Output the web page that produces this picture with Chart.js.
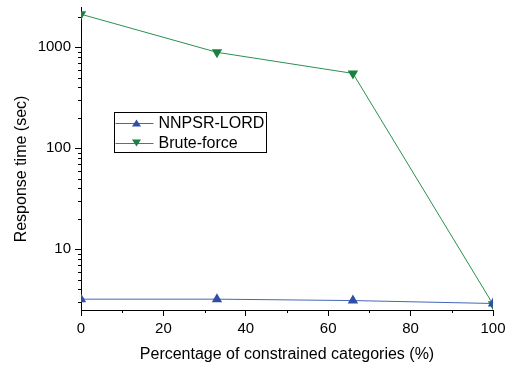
<!DOCTYPE html>
<html>
<head>
<meta charset="utf-8">
<script src="https://cdn.jsdelivr.net/npm/chart.js@4/dist/chart.umd.min.js"></script>
<style>
html,body{margin:0;padding:0;background:#fff;}
#wrap{width:515px;height:371px;}
</style>
</head>
<body>
<div id="wrap"><canvas id="c" width="515" height="371"></canvas></div>
<script>
const categories = [0, 33, 66, 100];
const nnpsrValues = [3.2, 3.2, 3.1, 2.9];
const bruteValues = [2120, 890, 550, 2.85];
const xTicks = [0, 20, 40, 60, 80, 100];
const yMajorTicks = [10, 100, 1000];
const seriesNames = ['NNPSR-LORD', 'Brute-force'];
const xTitle = 'Percentage of constrained categories (%)';
const yTitle = 'Response time (sec)';

const FONT = 'Liberation Sans, Arial, sans-serif';

const minorTicks = {
  id: 'minorTicks',
  afterDraw(chart) {
    const ctx = chart.ctx;
    const y = chart.scales.y, x = chart.scales.x;
    ctx.save();
    ctx.strokeStyle = '#000';
    ctx.lineWidth = 1;
    ctx.beginPath();
    for (let d = 1; d <= 1000; d *= 10) {
      for (let k = 2; k <= 9; k++) {
        const v = d * k;
        if (v < y.min || v > y.max) continue;
        const py = Math.round(y.getPixelForValue(v)) + 0.5;
        ctx.moveTo(x.left - 3, py);
        ctx.lineTo(x.left, py);
      }
    }
    for (let v = 10; v < 100; v += 20) {
      const px = Math.round(x.getPixelForValue(v)) + 0.5;
      ctx.moveTo(px, y.bottom);
      ctx.lineTo(px, y.bottom + 3);
    }
    ctx.stroke();
    ctx.restore();
  }
};

const axisTitles = {
  id: 'axisTitles',
  afterDraw(chart) {
    const ctx = chart.ctx;
    const x = chart.scales.x;
    ctx.save();
    ctx.fillStyle = '#000';
    ctx.font = '16px ' + FONT;
    ctx.textAlign = 'center';
    ctx.textBaseline = 'middle';
    ctx.fillText(xTitle, (x.left + x.right) / 2, 355);
    ctx.translate(22, 169);
    ctx.rotate(-Math.PI / 2);
    ctx.fillText(yTitle, 0, 0);
    ctx.restore();
  }
};

const boxLegend = {
  id: 'boxLegend',
  afterDraw(chart) {
    const ctx = chart.ctx;
    const bx = 114.5, by = 112.5, bw = 152, bh = 40;
    ctx.save();
    ctx.fillStyle = '#fff';
    ctx.fillRect(bx, by, bw, bh);
    ctx.strokeStyle = '#000';
    ctx.lineWidth = 1;
    ctx.strokeRect(bx, by, bw, bh);
    ctx.font = '16px ' + FONT;
    ctx.textBaseline = 'middle';
    chart.data.datasets.forEach((ds, i) => {
      const cy = by + 10.5 + i * 20;
      ctx.strokeStyle = ds.borderColor;
      ctx.lineWidth = 1;
      ctx.beginPath();
      ctx.moveTo(bx + 1, Math.round(cy) + 0.5);
      ctx.lineTo(bx + 39, Math.round(cy) + 0.5);
      ctx.stroke();
      ctx.fillStyle = ds.pointBackgroundColor;
      const cx = bx + 22, r = 4.5;
      ctx.beginPath();
      if (ds.pointRotation === 180) {
        ctx.moveTo(cx - r, cy - r * 0.8);
        ctx.lineTo(cx + r, cy - r * 0.8);
        ctx.lineTo(cx, cy + r * 0.8);
      } else {
        ctx.moveTo(cx - r, cy + r * 0.8);
        ctx.lineTo(cx + r, cy + r * 0.8);
        ctx.lineTo(cx, cy - r * 0.8);
      }
      ctx.closePath();
      ctx.fill();
      ctx.fillStyle = '#000';
      ctx.fillText(ds.label, bx + 44, cy + 1);
    });
    ctx.restore();
  }
};

new Chart(document.getElementById('c'), {
  type: 'line',
  data: {
    datasets: [
      {
        label: seriesNames[0],
        data: categories.map((c, i) => ({x: c, y: nnpsrValues[i]})),
        borderColor: '#4466b8',
        borderWidth: 1,
        pointStyle: 'triangle',
        pointRadius: 6,
        pointBackgroundColor: '#2f4fa6',
        pointBorderColor: '#2f4fa6',
        pointBorderWidth: 0,
        clip: 0,
        tension: 0
      },
      {
        label: seriesNames[1],
        data: categories.map((c, i) => ({x: c, y: bruteValues[i]})),
        borderColor: '#2a9050',
        borderWidth: 1,
        pointStyle: 'triangle',
        pointRotation: 180,
        pointRadius: 6,
        pointBackgroundColor: '#1a8040',
        pointBorderColor: '#1a8040',
        pointBorderWidth: 0,
        clip: 0,
        tension: 0
      }
    ]
  },
  options: {
    responsive: false,
    animation: false,
    devicePixelRatio: 1,
    layout: {padding: {top: 7, right: 22, left: 0, bottom: 0}},
    plugins: {legend: {display: false}, tooltip: {enabled: false}},
    scales: {
      x: {
        type: 'linear',
        min: 0, max: 100,
        afterBuildTicks(s) { s.ticks = xTicks.map(v => ({value: v})); },
        afterFit(s) { s.height = 61; s.paddingLeft = 0; s.paddingRight = 0; },
        border: {display: true, color: '#000', width: 1},
        grid: {drawOnChartArea: false, drawTicks: true, tickLength: 6, color: '#000'},
        ticks: {color: '#000', font: {size: 15, family: FONT}, padding: 4, maxRotation: 0}
      },
      y: {
        type: 'logarithmic',
        min: 2.5, max: 2500,
        afterBuildTicks(s) { s.ticks = yMajorTicks.map(v => ({value: v})); },
        afterFit(s) { s.width = 81; s.paddingTop = 0; s.paddingBottom = 0; },
        border: {display: true, color: '#000', width: 1},
        grid: {drawOnChartArea: false, drawTicks: true, tickLength: 6, color: '#000'},
        ticks: {color: '#000', font: {size: 15, family: FONT}, padding: 4, callback: v => String(v)}
      }
    }
  },
  plugins: [minorTicks, axisTitles, boxLegend]
});
</script>
</body>
</html>
